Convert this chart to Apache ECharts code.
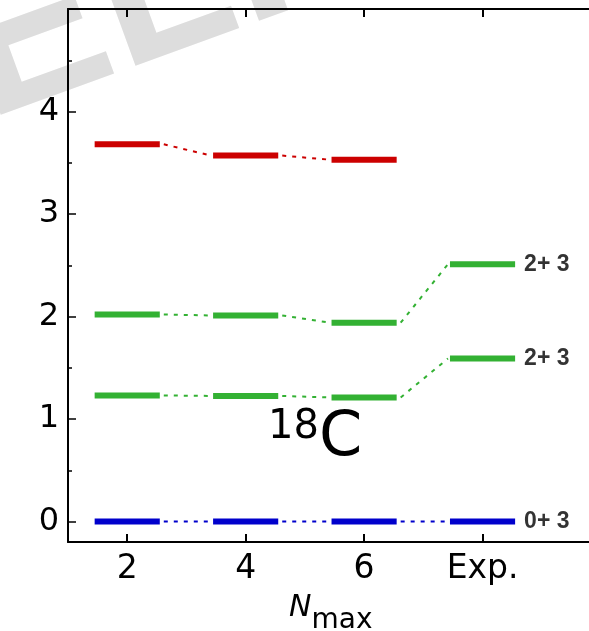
<!DOCTYPE html>
<html>
<head>
<meta charset="utf-8">
<script src="https://cdn.jsdelivr.net/npm/echarts@6/dist/echarts.min.js"></script>
<style>
html,body{margin:0;padding:0;background:#fff;overflow:hidden;}
#chart{width:589px;height:631px;}
</style>
</head>
<body>
<div id="chart"></div>
<script>
// ---- data ----
const nmaxLabels = ['2', '4', '6', 'Exp.'];
const nmaxPositions = [0, 1, 2, 3];
const levelRed = [3.68, 3.57, 3.53, null];
const levelGreenHigh = [2.02, 2.01, 1.94, 2.51];
const levelGreenLow = [1.23, 1.225, 1.21, 1.59];
const levelBlue = [0, 0, 0, 0];
const expLabelsBlue = '0+ 3';
const expLabelsGreen = '2+ 3';
const yTickValues = [0, 1, 2, 3, 4];
const yMinorTickValues = [0.5, 1.5, 2.5, 3.5, 4.5];

const HALF = 0.275;
const FONT = '"DejaVu Sans"';
const UNIT = 118.44;              // px per x unit
const XMAX = 4.5;                 // grid extends past the right edge

function barData(vals) {
  const d = [];
  vals.forEach((v, i) => { if (v !== null) d.push([nmaxPositions[i], v]); });
  return d;
}
function connData(vals) {
  const d = [];
  for (let i = 0; i < vals.length - 1; i++) {
    if (vals[i] !== null && vals[i + 1] !== null) {
      d.push([nmaxPositions[i], vals[i], nmaxPositions[i + 1], vals[i + 1]]);
    }
  }
  return d;
}
function barSeries(vals, color) {
  return {
    type: 'custom',
    data: barData(vals),
    encode: { x: [0], y: [1] },
    renderItem: function (params, api) {
      const x = api.value(0), y = api.value(1);
      const p1 = api.coord([x - HALF, y]);
      const p2 = api.coord([x + HALF, y]);
      return { type: 'line', shape: { x1: p1[0], y1: p1[1], x2: p2[0], y2: p2[1] },
        style: { stroke: color, lineWidth: 6 } };
    },
    z: 5
  };
}
function connSeries(vals, color) {
  return {
    type: 'custom',
    data: connData(vals),
    encode: { x: [0, 2], y: [1, 3] },
    renderItem: function (params, api) {
      const p1 = api.coord([api.value(0) + HALF, api.value(1)]);
      const p2 = api.coord([api.value(2) - HALF, api.value(3)]);
      return { type: 'line', shape: { x1: p1[0] + 4, y1: p1[1], x2: p2[0] - 2, y2: p2[1] },
        style: { stroke: color, lineWidth: 2, lineDash: [4, 6] } };
    },
    z: 4
  };
}
function labelSeries(vals, text) {
  return {
    type: 'scatter',
    symbolSize: 0,
    data: [[nmaxPositions[3] + HALF, vals[3]]],
    label: { show: true, position: 'right', distance: 9, formatter: text,
      fontFamily: '"Liberation Sans"', fontWeight: 'bold', fontSize: 23, color: '#000' },
    silent: true
  };
}

const RED = '#cc0000', GREEN = '#33b133', BLUE = '#0000cc';

const chart = echarts.init(document.getElementById('chart'), null, { renderer: 'canvas' });
chart.setOption({
  backgroundColor: '#ffffff',
  animation: false,
  grid: { left: 68, top: 9, width: UNIT * (XMAX + 0.5), height: 533, containLabel: false, outerBoundsMode: 'none' },
  xAxis: [{
    type: 'value', min: -0.5, max: XMAX, position: 'bottom',
    axisLine: { onZero: false, lineStyle: { color: '#000', width: 2 } },
    axisTick: { inside: true, length: 8, customValues: nmaxPositions, lineStyle: { color: '#000', width: 2 } },
    axisLabel: { customValues: nmaxPositions, margin: 11, color: '#000', fontSize: 33, fontFamily: FONT,
      formatter: v => nmaxLabels[nmaxPositions.indexOf(v)] },
    splitLine: { show: false },
    name: '{n|N}{m|max}', nameLocation: 'start', nameGap: 0,
    nameTextStyle: { align: 'left', verticalAlign: 'top', padding: [51, 0, 0, 221], rich: {
      n: { fontFamily: FONT, fontStyle: 'italic', fontSize: 30, lineHeight: 30, verticalAlign: 'top', color: '#000' },
      m: { fontFamily: FONT, fontSize: 28, lineHeight: 42, verticalAlign: 'bottom', color: '#000' }
    } }
  }, {
    type: 'value', min: -0.5, max: XMAX, position: 'top',
    axisLine: { onZero: false, lineStyle: { color: '#000', width: 2 } },
    axisTick: { inside: true, length: 8, customValues: nmaxPositions, lineStyle: { color: '#000', width: 2 } },
    axisLabel: { show: false },
    splitLine: { show: false }
  }],
  yAxis: [{
    type: 'value', min: -0.2, max: 5, position: 'left',
    axisLine: { onZero: false, lineStyle: { color: '#000', width: 2 } },
    axisTick: { inside: true, length: 8, customValues: yTickValues, lineStyle: { color: '#000', width: 1.5 } },
    axisLabel: { customValues: yTickValues, margin: 9, color: '#000', fontSize: 32, fontFamily: FONT },
    splitLine: { show: false }
  }, {
    type: 'value', min: -0.2, max: 5, position: 'left', offset: 0,
    axisLine: { show: false, onZero: false },
    axisTick: { inside: true, length: 4, customValues: yMinorTickValues, lineStyle: { color: '#000', width: 1.5 } },
    axisLabel: { show: false },
    splitLine: { show: false }
  }],
  graphic: [{
    type: 'text', x: -33, y: 64, rotation: 20 * Math.PI / 180, z: -10, silent: true,
    style: { text: 'ELI', font: 'bold 215px "Liberation Sans"', fill: '#dddddd', verticalAlign: 'middle' }
  }, {
    type: 'text', x: 268, y: 408, z: 10, silent: true,
    style: {
      text: '{a|18}{b|C}', verticalAlign: 'top',
      rich: {
        a: { fontFamily: FONT, fontSize: 40, lineHeight: 34, verticalAlign: 'top', fill: '#000' },
        b: { fontFamily: FONT, fontSize: 62, lineHeight: 62, fill: '#000' }
      }
    }
  }, {
    type: 'rect', z: 100, silent: true,
    shape: { x: 584, y: 11, width: 10, height: 529 },
    style: { fill: '#ffffff' }
  }],
  series: [
    connSeries(levelRed, RED), barSeries(levelRed, RED),
    connSeries(levelGreenHigh, GREEN), barSeries(levelGreenHigh, GREEN),
    connSeries(levelGreenLow, GREEN), barSeries(levelGreenLow, GREEN),
    connSeries(levelBlue, BLUE), barSeries(levelBlue, BLUE),
    labelSeries(levelGreenHigh, expLabelsGreen),
    labelSeries(levelGreenLow, expLabelsGreen),
    labelSeries(levelBlue, expLabelsBlue)
  ]
});
</script>
</body>
</html>
